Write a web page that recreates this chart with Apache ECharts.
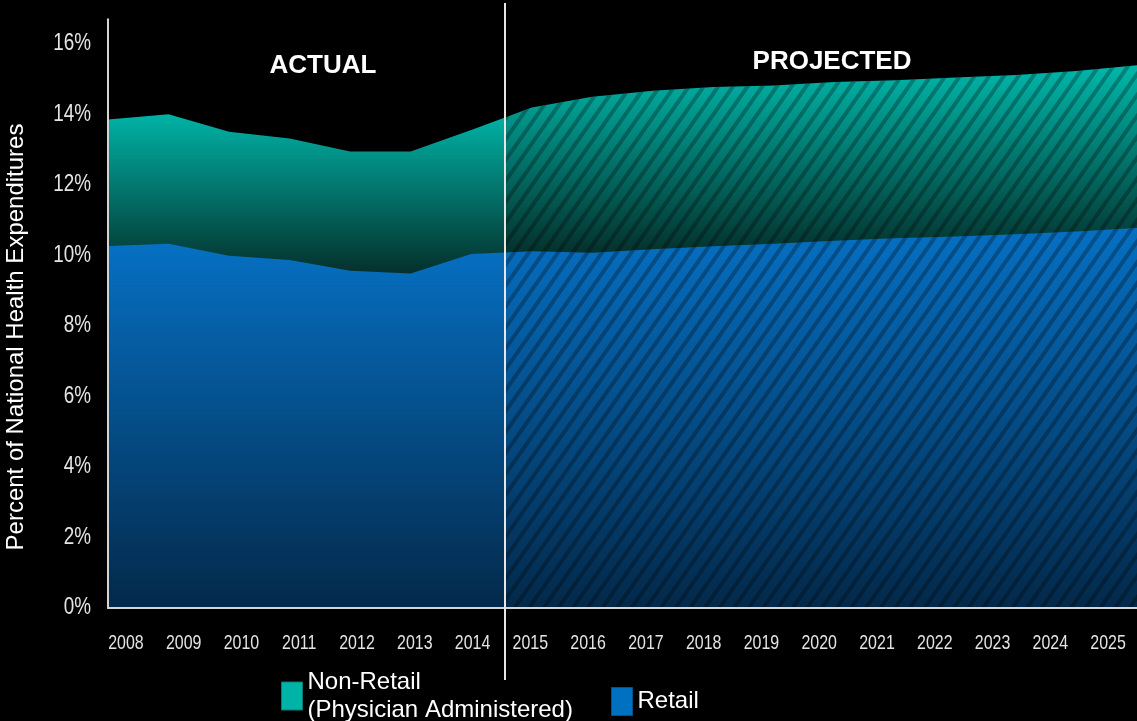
<!DOCTYPE html>
<html>
<head>
<meta charset="utf-8">
<script src="https://cdn.jsdelivr.net/npm/echarts@6/dist/echarts.min.js"></script>
<style>
  html, body { margin: 0; padding: 0; background: #000; }
  #chart { width: 1137px; height: 721px; }
</style>
</head>
<body>
<div id="chart"></div>
<script>
// Share of national health expenditures spent on prescription drugs (%)
const years = ['2008', '2009', '2010', '2011', '2012', '2013', '2014', '2015', '2016',
  '2017', '2018', '2019', '2020', '2021', '2022', '2023', '2024', '2025'];
const retail = [10.27, 10.33, 9.99, 9.87, 9.57, 9.49, 10.04, 10.12, 10.08,
  10.18, 10.26, 10.33, 10.42, 10.49, 10.54, 10.60, 10.68, 10.78];
const nonRetail = [3.59, 3.68, 3.52, 3.45, 3.38, 3.46, 3.52, 4.08, 4.42,
  4.49, 4.52, 4.49, 4.50, 4.48, 4.51, 4.52, 4.55, 4.62];
const yTicks = [0, 2, 4, 6, 8, 10, 12, 14, 16];
const lastActual = 6;   // 2014 is the last actual year

const NAME_NON = 'Non-Retail\n(Physician Administered)';
const NAME_RET = 'Retail';

// non-retail sits on top of retail
const totals = retail.map((v, i) => +(v + nonRetail[i]).toFixed(2));

// layout
const plotLeft = 108, plotRight = 1137, divideX = 505, baseY = 608, topY = 19.3;
const H = 721;
const step = (plotRight - plotLeft) / (years.length - 1);
const splitPos = (divideX - plotLeft) / step;
const yMax = 16.7;

const sans = "'Liberation Sans', Arial, sans-serif";

const TEAL = '#00b8ab', TEAL_DARK = '#05302c';

function greenFill(from, to) {
  const hi = Math.max(...totals.slice(from, to + 1));
  const lo = Math.min(...retail.slice(from, to + 1));
  const k = (hi - lo) / hi;
  return {
    type: 'linear', x: 0, y: 0, x2: 0, y2: 1,
    colorStops: [{ offset: 0, color: TEAL }, { offset: k, color: TEAL_DARK }, { offset: 1, color: TEAL_DARK }]
  };
}
const blueFill = {
  type: 'linear', x: 0, y: 0, x2: 0, y2: 1,
  colorStops: [{ offset: 0, color: '#0670c3' }, { offset: 1, color: '#03294a' }]
};
const hatch = {
  symbol: 'rect', symbolSize: 1,
  dashArrayX: [1, 0], dashArrayY: [4, 8],
  rotation: -0.96,
  color: 'rgba(0,0,0,0.28)'
};

function pts(arr, from, to) {
  return arr.slice(from, to + 1).map((v, k) => [from + k, v]);
}

function areaSeries(name, arr, from, to, axis, fill, decal) {
  const s = {
    name: name, type: 'line',
    xAxisIndex: axis, yAxisIndex: axis,
    data: pts(arr, from, to),
    showSymbol: false, symbol: 'none',
    lineStyle: { width: 0 },
    areaStyle: { color: fill, opacity: 1 },
    itemStyle: { color: fill },
    emphasis: { disabled: true },
    clip: true, silent: true
  };
  if (decal) s.itemStyle.decal = decal;
  return s;
}

const axisLineStyle = { color: '#d4d4d4', width: 2 };
const gridBox = { top: topY, bottom: H - baseY };
const last = years.length - 1;

const option = {
  backgroundColor: '#000',
  animation: false,
  grid: [
    Object.assign({ left: plotLeft, width: divideX - plotLeft }, gridBox),
    Object.assign({ left: divideX, width: plotRight - divideX }, gridBox),
    Object.assign({ left: 97, width: 1046 }, gridBox)
  ],
  xAxis: [
    { gridIndex: 0, type: 'value', min: 0, max: splitPos, z: 5,
      axisLine: { show: true, onZero: false, lineStyle: axisLineStyle },
      axisTick: { show: false }, axisLabel: { show: false }, splitLine: { show: false } },
    { gridIndex: 1, type: 'value', min: splitPos, max: last, z: 5,
      axisLine: { show: true, onZero: false, lineStyle: axisLineStyle },
      axisTick: { show: false }, axisLabel: { show: false }, splitLine: { show: false } },
    { gridIndex: 2, type: 'category', data: years, boundaryGap: true,
      axisLine: { show: false }, axisTick: { show: false }, splitLine: { show: false },
      axisLabel: { show: false } }
  ],
  yAxis: [
    { gridIndex: 0, type: 'value', min: 0, max: yMax, interval: 2, z: 5,
      axisLine: { show: true, lineStyle: axisLineStyle },
      axisTick: { show: false }, splitLine: { show: false }, axisLabel: { show: false } },
    { gridIndex: 1, type: 'value', min: 0, max: yMax, show: false, splitLine: { show: false } },
    { gridIndex: 2, type: 'value', min: 0, max: yMax, show: false, splitLine: { show: false } }
  ],
  legend: [
    { left: 276, top: 663, itemWidth: 21, itemHeight: 28, selectedMode: false,
      textStyle: { color: '#fff', fontFamily: sans, fontSize: 24, lineHeight: 28 },
      data: [{ name: NAME_NON, icon: 'rect',
        itemStyle: { color: '#00b3a7', borderColor: '#0a7a72', borderWidth: 1, decal: 'none' } }] },
    { left: 606, top: 682, itemWidth: 21, itemHeight: 28, selectedMode: false,
      textStyle: { color: '#fff', fontFamily: sans, fontSize: 24, lineHeight: 28 },
      data: [{ name: NAME_RET, icon: 'rect',
        itemStyle: { color: '#0070c0', borderColor: '#0a4f86', borderWidth: 1, decal: 'none' } }] }
  ],
  series: [
    areaSeries(NAME_NON, totals, 0, lastActual + 1, 0, greenFill(0, lastActual + 1), null),
    areaSeries(NAME_RET, retail, 0, lastActual + 1, 0, blueFill, null),
    areaSeries(NAME_NON, totals, lastActual, last, 1, greenFill(lastActual, last), hatch),
    areaSeries(NAME_RET, retail, lastActual, last, 1, blueFill, hatch)
  ]
};

const chart = echarts.init(document.getElementById('chart'), null, { renderer: 'canvas' });
chart.setOption(option);

// condensed tick labels, placed through the axes
const xLabels = years.map(y => ({
  type: 'text', silent: true, z: 100,
  x: chart.convertToPixel({ xAxisIndex: 2 }, y), y: 643, scaleX: 0.76,
  style: { text: y, fill: '#e4e4e4', font: '21px ' + sans, align: 'center', verticalAlign: 'middle' }
}));
const yLabels = yTicks.map(v => ({
  type: 'text', silent: true, z: 100,
  x: 91, y: chart.convertToPixel({ yAxisIndex: 0 }, v), scaleX: 0.82,
  style: { text: v + '%', fill: '#e4e4e4', font: '23px ' + sans, align: 'right', verticalAlign: 'middle' }
}));

chart.setOption({
  graphic: [
    { type: 'line', z: 100, silent: true,
      shape: { x1: divideX, y1: 3, x2: divideX, y2: 680 },
      style: { stroke: '#e6e6e6', lineWidth: 2 } },
    { type: 'text', z: 100, x: 323, y: 66, silent: true,
      style: { text: 'ACTUAL', fill: '#fff', font: 'bold 26px ' + sans, align: 'center', verticalAlign: 'middle' } },
    { type: 'text', z: 100, x: 832, y: 62, silent: true,
      style: { text: 'PROJECTED', fill: '#fff', font: 'bold 26px ' + sans, align: 'center', verticalAlign: 'middle' } },
    { type: 'text', z: 100, x: 16, y: 337, rotation: Math.PI / 2, silent: true,
      style: { text: 'Percent of National Health Expenditures', fill: '#fff', font: '24px ' + sans,
        align: 'center', verticalAlign: 'middle' } }
  ].concat(xLabels, yLabels)
});
</script>
</body>
</html>
